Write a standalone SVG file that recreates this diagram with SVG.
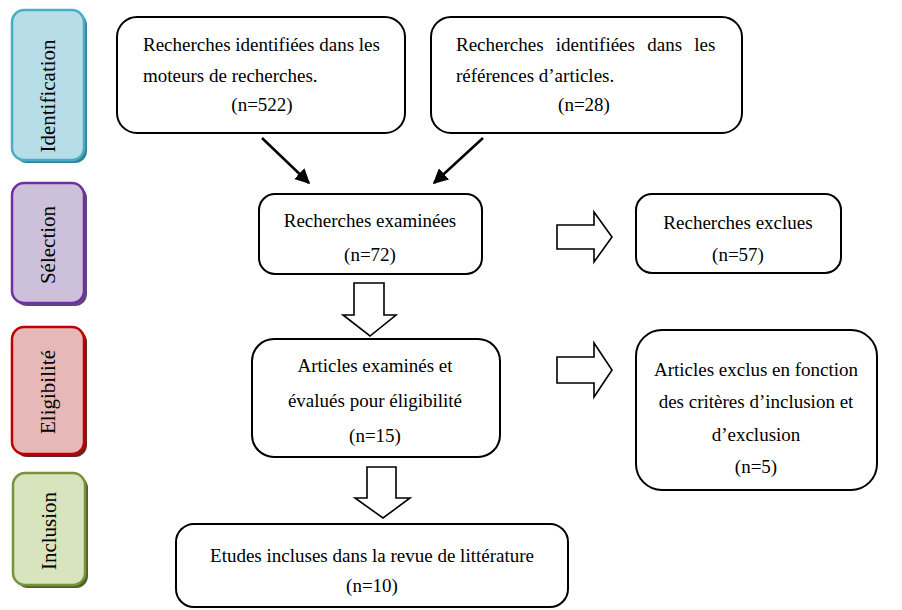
<svg xmlns="http://www.w3.org/2000/svg" width="902" height="610" viewBox="0 0 902 610">
<style>
.box{fill:#fff;stroke:#000;stroke-width:2}
.t{font-family:"Liberation Serif","Times New Roman",serif;font-size:19px;fill:#000}
.c{text-anchor:middle}
.side{font-family:"Liberation Serif","Times New Roman",serif;font-size:21px;fill:#000;text-anchor:middle}
.blk{fill:#fff;stroke:#000;stroke-width:1.6;stroke-linejoin:miter}
.ln{stroke:#000;stroke-width:2.5;fill:none}
</style>
<defs>
<marker id="ah" viewBox="0 0 10 10" refX="9" refY="5" markerWidth="6" markerHeight="6" orient="auto" markerUnits="strokeWidth">
<path d="M0,0 L10,5 L0,10 Z" fill="#000"/>
</marker>
</defs>
<rect width="902" height="610" fill="#fff"/>

<g id="side-identification">
<rect x="15" y="13" width="72" height="150" rx="12" fill="#31849b"/>
<rect x="12" y="10" width="72" height="150" rx="12" fill="#b7dde8" stroke="#4bacc6" stroke-width="2.5"/>
<text class="side" transform="translate(55,96) rotate(-90)">Identification</text>
</g>
<g id="side-selection">
<rect x="15" y="186" width="72" height="120" rx="12" fill="#5f497a"/>
<rect x="12" y="183" width="72" height="120" rx="12" fill="#ccc0da" stroke="#7030a0" stroke-width="2.5"/>
<text class="side" transform="translate(55,245) rotate(-90)">Sélection</text>
</g>
<g id="side-eligibilite">
<rect x="15" y="330" width="72" height="127" rx="12" fill="#632523"/>
<rect x="12" y="327" width="72" height="127" rx="12" fill="#e6b9b8" stroke="#c00000" stroke-width="2.5"/>
<text class="side" transform="translate(55,392) rotate(-90)">Eligibilité</text>
</g>
<g id="side-inclusion">
<rect x="16" y="476" width="72" height="112" rx="12" fill="#4f6228"/>
<rect x="13" y="473" width="72" height="112" rx="12" fill="#d7e4bd" stroke="#77933c" stroke-width="2.5"/>
<text class="side" transform="translate(56,531) rotate(-90)">Inclusion</text>
</g>

<g id="n1">
<rect class="box" x="117" y="17" width="288" height="116" rx="20"/>
<text class="t" x="143" y="51">Recherches identifiées dans les</text>
<text class="t" x="143" y="82">moteurs de recherches.</text>
<text class="t c" x="262" y="111">(n=522)</text>
</g>
<g id="n2">
<rect class="box" x="431" y="17" width="311" height="116" rx="20"/>
<text class="t" x="456" y="51" word-spacing="7.5">Recherches identifiées dans les</text>
<text class="t" x="456" y="82">références d’articles.</text>
<text class="t c" x="584" y="111">(n=28)</text>
</g>
<g id="n3">
<rect class="box" x="259" y="194" width="223" height="80" rx="16"/>
<text class="t c" x="370" y="227">Recherches examinées</text>
<text class="t c" x="370" y="261">(n=72)</text>
</g>
<g id="n4">
<rect class="box" x="636" y="194" width="205" height="79" rx="16"/>
<text class="t c" x="738" y="229">Recherches exclues</text>
<text class="t c" x="738" y="261">(n=57)</text>
</g>
<g id="n5">
<rect class="box" x="252" y="339" width="248" height="118" rx="22"/>
<text class="t c" x="375" y="372">Articles examinés et</text>
<text class="t c" x="375" y="407">évalués pour éligibilité</text>
<text class="t c" x="375" y="442">(n=15)</text>
</g>
<g id="n6">
<rect class="box" x="636" y="330" width="241" height="160" rx="26"/>
<text class="t c" x="756" y="376">Articles exclus en fonction</text>
<text class="t c" x="756" y="408">des critères d’inclusion et</text>
<text class="t c" x="756" y="441">d’exclusion</text>
<text class="t c" x="756" y="473">(n=5)</text>
</g>
<g id="n7">
<rect class="box" x="176" y="524" width="392" height="83" rx="18"/>
<text class="t c" x="372" y="562">Etudes incluses dans la revue de littérature</text>
<text class="t c" x="372" y="592">(n=10)</text>
</g>

<g id="connectors">
<line class="ln" x1="262" y1="138" x2="309" y2="183" marker-end="url(#ah)"/>
<line class="ln" x1="483" y1="138" x2="434" y2="183" marker-end="url(#ah)"/>
<path class="blk" d="M557,225 H594 V212 L612,237 L594,262 V249 H557 Z"/>
<path class="blk" d="M557,357 H594 V343 L612,370 L594,397 V383 H557 Z"/>
<path class="blk" d="M354,283 H384 V315 H396 L370,336 L343,315 H354 Z"/>
<path class="blk" d="M367,467 H396 V498 H410 L383,518 L355,498 H367 Z"/>
</g>
</svg>
